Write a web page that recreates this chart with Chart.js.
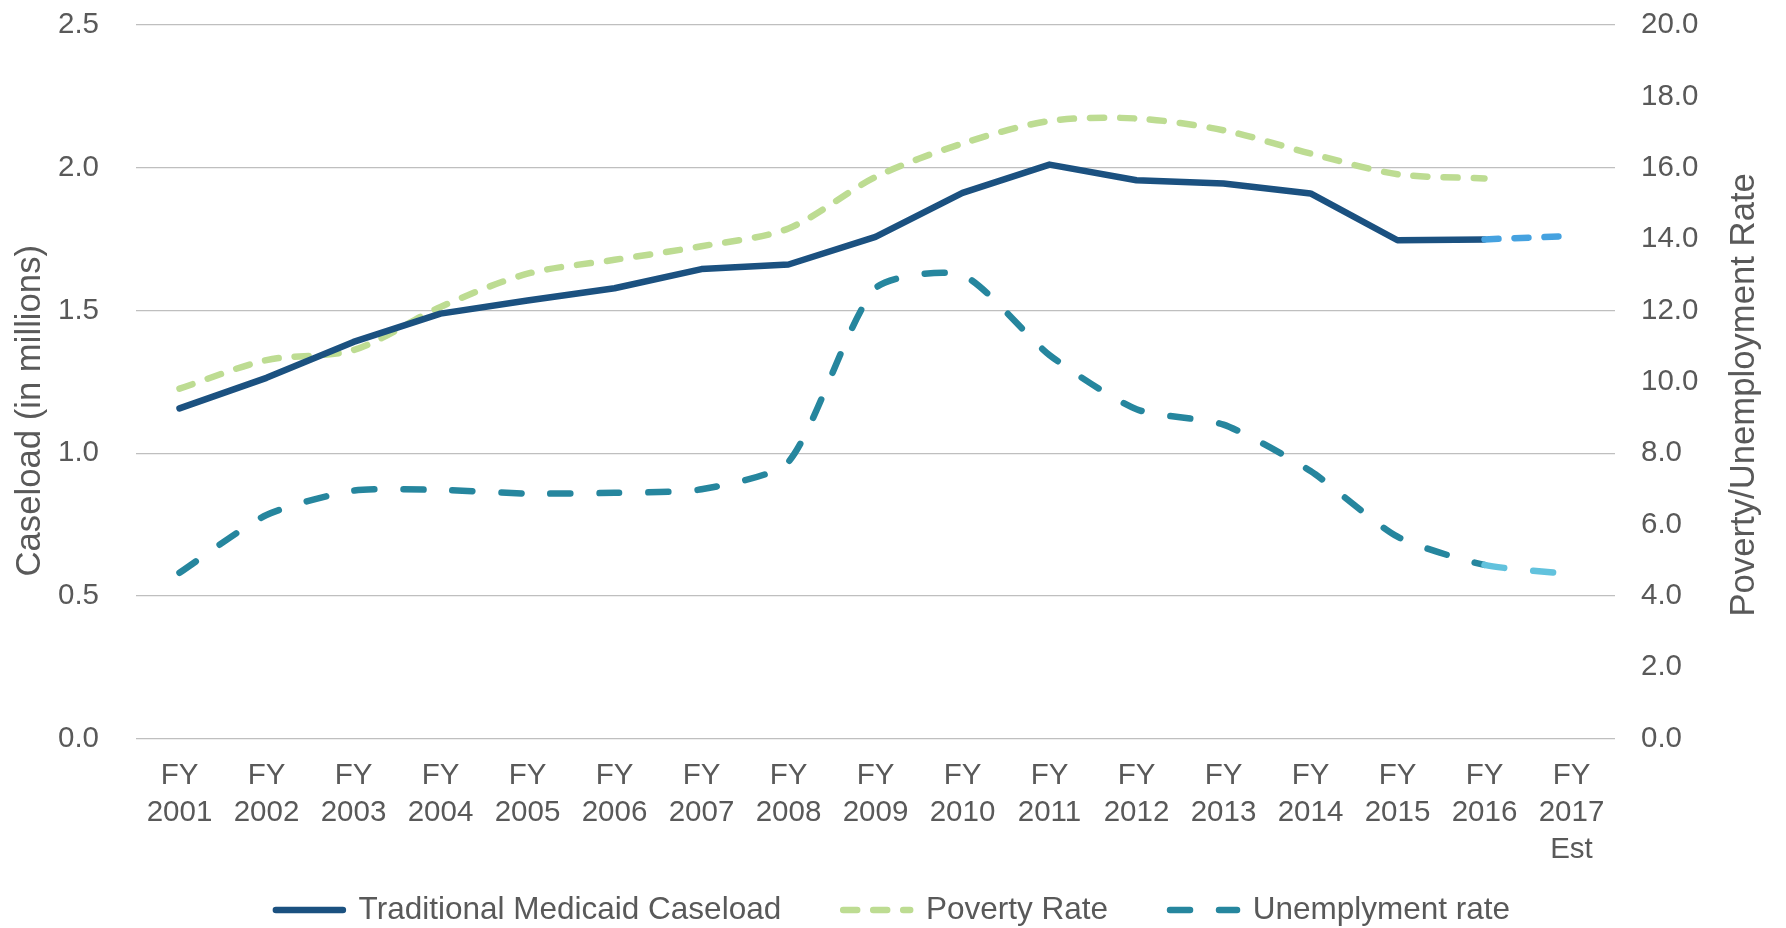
<!DOCTYPE html>
<html>
<head>
<meta charset="utf-8">
<script src="https://cdn.jsdelivr.net/npm/chart.js@4.4.1/dist/chart.umd.min.js"></script>
<style>
  html, body { margin: 0; padding: 0; background: #ffffff; }
  #wrap { width: 1786px; height: 928px; position: relative; }
</style>
</head>
<body>
<div id="wrap"><canvas id="c" width="1786" height="928"></canvas></div>
<script>
// ---- data ----
const categories = [
  ['FY', '2001'], ['FY', '2002'], ['FY', '2003'], ['FY', '2004'], ['FY', '2005'],
  ['FY', '2006'], ['FY', '2007'], ['FY', '2008'], ['FY', '2009'], ['FY', '2010'],
  ['FY', '2011'], ['FY', '2012'], ['FY', '2013'], ['FY', '2014'], ['FY', '2015'],
  ['FY', '2016'], ['FY', '2017', 'Est']
];
const caseload = [1.157, 1.264, 1.390, 1.489, 1.535, 1.578, 1.645, 1.661, 1.758, 1.912, 2.011, 1.956, 1.945, 1.910, 1.746, 1.749, 1.761];
const povertyRate = [9.81, 10.61, 10.89, 12.10, 13.03, 13.42, 13.80, 14.30, 15.74, 16.68, 17.31, 17.38, 17.05, 16.40, 15.82, 15.70, null];
const unemploymentRate = [4.65, 6.27, 6.95, 6.97, 6.87, 6.89, 6.99, 7.76, 12.62, 12.99, 10.75, 9.23, 8.80, 7.50, 5.66, 4.87, 4.61];
const seriesNames = ['Traditional Medicaid Caseload', 'Poverty Rate', 'Unemplyment rate'];
const leftAxisTitle = 'Caseload (in millions)';
const rightAxisTitle = 'Poverty/Unemployment Rate';
const estimateIndex = 16; // last point is an estimate

// ---- styles ----
const FONT = "'Liberation Sans', Arial, Helvetica, sans-serif";
const TEXT = '#595959';
const GRID = '#BFBFBF';
const legendDash = [[], [14, 16], [20, 29]];

const isEst = (ctx) => ctx.p1DataIndex === estimateIndex;

// right axis title, drawn reading bottom-to-top like the left one
const rightTitlePlugin = {
  id: 'rightTitle',
  afterDraw(chart) {
    const s = chart.scales.y1;
    const ctx = chart.ctx;
    ctx.save();
    ctx.fillStyle = TEXT;
    ctx.font = '34.7px ' + FONT;
    ctx.textAlign = 'center';
    ctx.textBaseline = 'middle';
    ctx.translate(s.right - 42, (s.top + s.bottom) / 2 + 13);
    ctx.rotate(-Math.PI / 2);
    ctx.fillText(rightAxisTitle, 0, 0);
    ctx.restore();
  }
};

new Chart(document.getElementById('c'), {
  type: 'line',
  data: {
    labels: categories,
    datasets: [
      {
        label: seriesNames[0],
        data: caseload,
        yAxisID: 'y',
        borderColor: '#1B5180',
        backgroundColor: '#1B5180',
        borderWidth: 6.5,
        borderCapStyle: 'round',
        borderJoinStyle: 'round',
        tension: 0,
        pointRadius: 0,
        pointHoverRadius: 0,
        pointStyle: 'line',
        segment: {
          borderColor: (ctx) => isEst(ctx) ? '#45A2E0' : undefined,
          borderDash: (ctx) => isEst(ctx) ? [14, 16] : undefined
        },
        order: 1
      },
      {
        label: seriesNames[1],
        data: povertyRate,
        yAxisID: 'y1',
        borderColor: '#BDDC92',
        backgroundColor: '#BDDC92',
        borderWidth: 6.5,
        borderDash: [14, 16],
        borderCapStyle: 'round',
        borderJoinStyle: 'round',
        tension: 0.3,
        pointRadius: 0,
        pointHoverRadius: 0,
        pointStyle: 'line',
        order: 2
      },
      {
        label: seriesNames[2],
        data: unemploymentRate,
        yAxisID: 'y1',
        borderColor: '#26869E',
        backgroundColor: '#26869E',
        borderWidth: 6.5,
        borderDash: [20, 29],
        borderCapStyle: 'round',
        borderJoinStyle: 'round',
        tension: 0.22,
        pointRadius: 0,
        pointHoverRadius: 0,
        pointStyle: 'line',
        segment: {
          borderColor: (ctx) => isEst(ctx) ? '#62C2DD' : undefined
        },
        order: 3
      }
    ]
  },
  options: {
    responsive: false,
    animation: false,
    devicePixelRatio: 1,
    layout: { padding: { top: 25, left: 0, right: 0, bottom: -7.75 } },
    font: { family: FONT },
    plugins: {
      tooltip: { enabled: false },
      legend: {
        position: 'bottom',
        align: 'center',
        labels: {
          color: TEXT,
          font: { family: FONT, size: 31.5 },
          usePointStyle: true,
          pointStyleWidth: 67,
          padding: 27,
          generateLabels: (chart) => {
            const items = Chart.defaults.plugins.legend.labels.generateLabels(chart);
            return items.map((it, i) => {
              const ds = chart.data.datasets[it.datasetIndex];
              it.strokeStyle = ds.borderColor;
              it.fillStyle = ds.borderColor;
              it.lineWidth = 6.5;
              it.lineCap = 'round';
              it.lineDash = legendDash[it.datasetIndex];
              it.pointStyle = 'line';
              it.text = i < items.length - 1 ? it.text + '    ' : it.text;
              return it;
            });
          }
        }
      }
    },
    scales: {
      x: {
        type: 'category',
        offset: true,
        grid: { display: false, drawTicks: false },
        border: { display: false },
        ticks: {
          color: TEXT,
          font: { family: FONT, size: 29.5, lineHeight: 1.26 },
          padding: 18.7,
          autoSkip: false,
          maxRotation: 0,
          minRotation: 0
        },
        afterFit: (scale) => { scale.height = 128.55; }
      },
      y: {
        position: 'left',
        min: 0,
        max: 2.5,
        grid: { color: GRID, lineWidth: 1.25, drawTicks: false },
        border: { display: false },
        ticks: {
          stepSize: 0.5,
          color: TEXT,
          font: { family: FONT, size: 29.5 },
          padding: 37,
          callback: (v) => Number(v).toFixed(1)
        },
        title: {
          display: true,
          text: leftAxisTitle + '      ',
          color: TEXT,
          font: { family: FONT, size: 34.7 },
          padding: { top: 10, bottom: 0 }
        },
        afterFit: (scale) => { scale.width = 136; scale.paddingTop = 0; scale.paddingBottom = 0; }
      },
      y1: {
        position: 'right',
        min: 0,
        max: 20,
        grid: { drawOnChartArea: false, drawTicks: false },
        border: { display: false },
        ticks: {
          stepSize: 2,
          color: TEXT,
          font: { family: FONT, size: 29.5 },
          padding: 26,
          callback: (v) => Number(v).toFixed(1)
        },
        title: { display: false, text: rightAxisTitle },
        afterFit: (scale) => { scale.width = 171; scale.paddingTop = 0; scale.paddingBottom = 0; }
      }
    }
  },
  plugins: [rightTitlePlugin]
});
</script>
</body>
</html>
